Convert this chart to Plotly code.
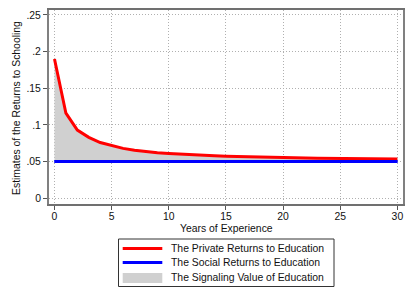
import plotly.graph_objects as go

years = list(range(0, 31))
private_returns = [0.190, 0.116, 0.093, 0.083, 0.076, 0.0715, 0.068, 0.0655, 0.0635, 0.062,
                   0.061, 0.060, 0.0592, 0.0585, 0.0578, 0.0572, 0.0567, 0.0563, 0.0559, 0.0555,
                   0.0552, 0.0549, 0.0547, 0.0545, 0.0543, 0.0541, 0.0539, 0.0537, 0.0536, 0.0535,
                   0.0534]
social_returns = [0.05] * 31

y_tickvals = [0, 0.05, 0.1, 0.15, 0.2, 0.25]
y_ticktext = ["0", ".05", ".1", ".15", ".2", ".25"]
x_tickvals = [0, 5, 10, 15, 20, 25, 30]

legend_names = ["The Private Returns to Education",
                "The Social Returns to Education",
                "The Signaling Value of Education"]
red = "#ff0000"
blue = "#0000ff"
gray_fill = "#d0d0d0"

font_family = "Liberation Sans, Arial, Helvetica, sans-serif"

W, H = 415, 302
L, R, T, B = 49, 12, 10, 98
PW, PH = W - L - R, H - T - B


def px(x):
    return (x - L) / PW


def py(y):
    return (H - B - y) / PH


fig = go.Figure()
fig.add_trace(go.Scatter(x=years, y=social_returns, mode="lines",
                         line=dict(color=blue, width=3), showlegend=False))
fig.add_trace(go.Scatter(x=years, y=private_returns, mode="none", fill="tonexty",
                         fillcolor=gray_fill, showlegend=False))
fig.add_trace(go.Scatter(x=years, y=private_returns, mode="lines",
                         line=dict(color=red, width=3), showlegend=False))
fig.add_trace(go.Scatter(x=years, y=social_returns, mode="lines",
                         line=dict(color=blue, width=3), showlegend=False,
                         hoverinfo="skip"))

shapes = []
annotations = []
# legend box
shapes.append(dict(type="rect", xref="paper", yref="paper",
                   x0=px(118.5), x1=px(334), y0=py(239), y1=py(286.5),
                   line=dict(color="#333", width=1), fillcolor="white", layer="above"))
sym_x0, sym_x1 = px(122.7), px(162.3)
shapes.append(dict(type="line", xref="paper", yref="paper", x0=sym_x0, x1=sym_x1,
                   y0=py(248.5), y1=py(248.5), line=dict(color=red, width=3), layer="above"))
shapes.append(dict(type="line", xref="paper", yref="paper", x0=sym_x0, x1=sym_x1,
                   y0=py(262.5), y1=py(262.5), line=dict(color=blue, width=3), layer="above"))
shapes.append(dict(type="rect", xref="paper", yref="paper", x0=sym_x0, x1=sym_x1,
                   y0=py(273), y1=py(283), line=dict(width=0), fillcolor=gray_fill,
                   layer="above"))
for name, yy in zip(legend_names, [248.5, 262.5, 277]):
    annotations.append(dict(text=name, xref="paper", yref="paper", x=px(169), y=py(yy),
                            xanchor="left", yanchor="middle", showarrow=False,
                            font=dict(size=10.4, color="#111")))
# axis titles
annotations.append(dict(text="Years of Experience", xref="paper", yref="paper",
                        x=px(226), y=py(228), xanchor="center", yanchor="middle",
                        showarrow=False, font=dict(size=10.4, color="#111")))
annotations.append(dict(text="Estimates of the Returns to Schooling", xref="paper",
                        yref="paper", x=px(16), y=py(108), xanchor="center",
                        yanchor="middle", textangle=-90, showarrow=False,
                        font=dict(size=10.4, color="#111")))

fig.update_layout(
    width=W, height=H,
    margin=dict(l=L, r=R, t=T, b=B, autoexpand=False),
    paper_bgcolor="white", plot_bgcolor="white",
    font=dict(family=font_family, size=10.4, color="#111"),
    showlegend=False,
    shapes=shapes,
    annotations=annotations,
    xaxis=dict(range=[-0.48, 30.49], tickvals=x_tickvals, ticks="outside", ticklen=4,
               tickcolor="#555", showgrid=True, gridcolor="#b0b0b0", griddash="1px,2px",
               gridwidth=1, showline=True, linecolor="#707070", linewidth=2, mirror=True,
               zeroline=False, automargin=False, tickfont=dict(size=10.4),
               ticklabelstandoff=-2),
    yaxis=dict(range=[-0.0079, 0.2568], tickvals=y_tickvals, ticktext=y_ticktext,
               ticks="outside", ticklen=4, tickcolor="#555", showgrid=True,
               gridcolor="#b0b0b0", griddash="1px,2px", gridwidth=1, showline=True,
               linecolor="#808080", linewidth=2, mirror=True, zeroline=False,
               automargin=False, tickfont=dict(size=10.4)),
)

fig.write_html("out.html", config={"displayModeBar": False},
               post_script="document.body.style.margin='0px';"
                           "document.body.style.overflow='hidden';")
